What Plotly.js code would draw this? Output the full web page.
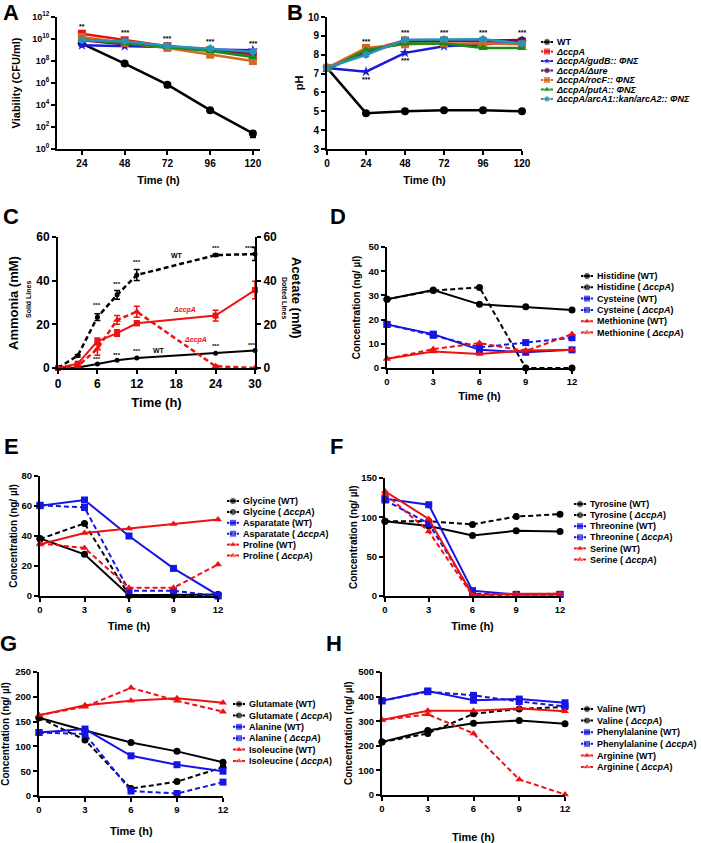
<!DOCTYPE html>
<html>
<head>
<meta charset="utf-8">
<script src="https://cdn.plot.ly/plotly-3.0.1.min.js"></script>
<style>body{margin:0;background:#fff}#fig{width:701px;height:843px}</style>
</head>
<body>
<div id="fig"></div>
<script>
const W = 701, H = 843
const FONT = 'Liberation Sans, Arial, sans-serif'

// A: viability (CFU/ml)
const tA = [24, 48, 72, 96, 120]
const viaWT = [3.8e9, 5.9e7, 7e5, 3.4e3, 26]
const viaWTerr = [5e8, 1e7, 3e5, 6e2, 15]
const viaCcpA = [3e10, 7.6e9, 2.2e9, 9.5e8, 3.8e8]
const viaGudB = [2.7e9, 2.3e9, 1.9e9, 1.1e9, 9.5e8]
const viaUre = [7.6e9, 3.3e9, 2.2e9, 1.1e9, 5.5e8]
const viaRocF = [1.55e10, 4.4e9, 1.55e9, 3.8e8, 1e8]
const viaPutA = [8.9e9, 3.8e9, 1.9e9, 8.3e8, 2.3e8]
const viaArcA = [7.6e9, 6.2e9, 2.3e9, 1.35e9, 6.8e8]
const sigA = ['**', '***', '***', '***', '***']
const sigAy = [11.1, 10.55, 10.05, 9.75, 9.6] // log10 position

// B: pH
const tB = [0, 24, 48, 72, 96, 120]
const phWT = [7.3, 4.9, 5.0, 5.05, 5.05, 5.0]
const phCcpA = [7.3, 8.2, 8.75, 8.75, 8.7, 8.7]
const phGudB = [7.3, 7.1, 8.1, 8.45, 8.55, 8.65]
const phUre = [7.3, 8.1, 8.7, 8.75, 8.75, 8.78]
const phRocF = [7.3, 8.36, 8.55, 8.6, 8.6, 8.55]
const phPutA = [7.2, 8.24, 8.6, 8.6, 8.35, 8.35]
const phArcA = [7.3, 8.0, 8.8, 8.82, 8.82, 8.6]
const sigBx = [24, 24, 48, 48, 72, 96, 120]
const sigBy = [8.68, 6.69, 9.17, 7.71, 9.17, 9.17, 9.17]

const strains = ['WT', '<i>ΔccpA</i>', '<i>ΔccpA/gudB:: ΦΝΣ</i>', '<i>ΔccpA/Δure</i>',
  '<i>ΔccpA/rocF:: ΦΝΣ</i>', '<i>ΔccpA/putA:: ΦΝΣ</i>', '<i>ΔccpA/arcA1::kan/arcA2:: ΦΝΣ</i>']
const strainColors = ['#000000', '#ee1111', '#1a1ad8', '#5e0f5e', '#d4681e', '#178a17', '#2a92b8']
const strainSymbols = ['circle', 'square', 'star', 'hexagon', 'square', 'triangle-up', 'hexagon']

// C: ammonia (solid, left axis) and acetate (dotted, right axis)
const tC = [0, 3, 6, 9, 12, 24, 30]
const nh3WT = [0, 0.2, 1.8, 3.5, 4.6, 6.8, 8]
const nh3CcpA = [0, 2, 12.2, 16, 20.5, 24, 35.7]
const nh3CcpAerr = [0, 0.5, 1.5, 1.5, 1, 2.5, 4]
const acWT = [0, 5.6, 23.3, 33.5, 42.6, 51.7, 52.2]
const acWTerr = [0, 0.5, 1.5, 2, 2.5, 0.5, 3]
const acCcpA = [0, 0.8, 8.8, 22, 25.8, 0.8, 0]
const acCcpAerr = [0, 0.3, 3, 2, 2.5, 0.5, 0]
const sigCx = [6, 9, 12, 24, 29.3, 6, 9, 12, 24, 29.5]
const sigCy = [28.9, 38.4, 48.6, 55, 55, 4.3, 6.1, 8, 9.9, 10.6]
const sigC = ['***', '***', '***', '***', '****', '***', '***', '***', '***', '***']

// D-H: amino acids, time 0-12 h
const tAA = [0, 3, 6, 9, 12]
const hisWT = [28.4, 32.2, 26.3, 25.3, 24]
const hisCcpA = [28.4, 32, 33.3, 0, 0]
const cysWT = [18, 14, 7.5, 6.5, 7.5]
const cysCcpA = [18, 13.5, 8.5, 10.5, 12.5]
const metWT = [3.8, 6.8, 5.8, 7.2, 7.5]
const metCcpA = [3.8, 7.8, 10.3, 7, 14]

const glyWT = [38.4, 27.8, 0.5, 0.5, 1]
const glyCcpA = [38, 48.4, 0.5, 0.5, 0.5]
const aspWT = [60.2, 64, 40, 18.4, 0.5]
const aspCcpA = [60.5, 59, 3.5, 3.5, 0]
const proWT = [34.4, 42, 45, 48, 51]
const proCcpA = [35, 32, 5.5, 5.5, 21]

const tyrWT = [95, 89, 77, 83, 82]
const tyrCcpA = [95, 95, 91, 101, 104]
const thrWT = [123.5, 116, 6.8, 2, 2]
const thrCcpA = [122, 92, 3, 2, 2]
const serWT = [133, 98, 1, 3, 3]
const serCcpA = [130, 82, 0.5, 2, 3]

const gluWT = [158, 132, 108, 90, 68]
const gluCcpA = [158, 113, 15, 29, 58]
const alaWT = [128, 135, 81, 63, 50]
const alaCcpA = [128, 125, 10, 5, 28]
const ileWT = [163, 183, 192, 197, 188]
const ileCcpA = [163, 180, 218, 192, 170]

const valWT = [215, 262, 292, 303, 290]
const valCcpA = [215, 250, 330, 350, 358]
const pheWT = [383, 423, 385, 390, 375]
const pheCcpA = [383, 420, 405, 380, 360]
const argWT = [305, 342, 342, 352, 340]
const argCcpA = [305, 328, 250, 63, 2]

const aaColors = ['#000000', '#000000', '#1515e6', '#1515e6', '#ee1111', '#ee1111']
const aaSymbols = ['circle', 'circle', 'square', 'square', 'triangle-up', 'triangle-up']
const aaDash = ['solid', '5px,3px', 'solid', '5px,3px', 'solid', '5px,3px']

function xdom(a, b) { return [a / W, b / W] }
function ydom(top, bottom) { return [1 - bottom / H, 1 - top / H] }

function axis(extra, size) {
  return Object.assign({
    showline: true, linecolor: '#000', linewidth: 2,
    ticks: 'outside', ticklen: 4, tickwidth: 2, tickcolor: '#000',
    showgrid: false, zeroline: false, fixedrange: true,
    tickfont: {family: FONT, size: size || 9, color: '#000', weight: 'bold'}
  }, extra)
}
function ttl(text, size, standoff) {
  return {text: text, standoff: standoff, font: {family: FONT, size: size, color: '#000', weight: 'bold'}}
}

const data = []
function addSeries(x, y, k, color, symbol, dash, msize, width, err, ya) {
  const tr = {x: x, y: y, xaxis: 'x' + k, yaxis: ya || ('y' + k), type: 'scatter', mode: 'lines+markers',
    line: {color: color, width: width, dash: dash}, marker: {color: color, symbol: symbol, size: msize},
    cliponaxis: false, showlegend: false, hoverinfo: 'skip'}
  if (err) tr.error_y = {type: 'data', array: err, color: color, thickness: 1.5, width: 3}
  data.push(tr)
}

const layout = {
  width: W, height: H, margin: {l: 0, r: 0, t: 0, b: 0},
  paper_bgcolor: '#fff', plot_bgcolor: 'rgba(0,0,0,0)',
  font: {family: FONT, color: '#000'}, showlegend: false, annotations: []
}

function note(text, x, y, xref, yref, size, color, extra) {
  layout.annotations.push(Object.assign({text: text, x: x, y: y, xref: xref, yref: yref, showarrow: false,
    font: {family: FONT, size: size, color: color || '#000', weight: 'bold'}}, extra || {}))
}
function paperNote(text, px, py, size, angle) {
  note(text, px / W, 1 - py / H, 'paper', 'paper', size, '#000', {textangle: angle || 0, xanchor: 'center', yanchor: 'middle'})
}

// legends drawn on their own small axes
let legendCount = 10
function addLegend(names, colors, symbols, dashes, mx, first, sp, fsize, msize) {
  const k = legendCount++
  const n = names.length
  const idx = names.map((_, i) => i)
  layout['xaxis' + k] = {domain: xdom(mx - 6, mx + 6), range: [0, 1], visible: false, anchor: 'y' + k, fixedrange: true}
  layout['yaxis' + k] = {domain: ydom(first - sp / 2, first + (n - 1) * sp + sp / 2), range: [n - 0.5, -0.5],
    anchor: 'x' + k, side: 'right', showline: false, ticks: '', showgrid: false, zeroline: false,
    tickvals: idx, ticktext: names, fixedrange: true, ticklabelstandoff: 3,
    tickfont: {family: FONT, size: fsize, color: '#000', weight: 'bold'}}
  idx.forEach(i => {
    data.push({x: [0, 0.5, 1], y: [i, i, i], xaxis: 'x' + k, yaxis: 'y' + k, type: 'scatter', mode: 'lines+markers',
      line: {color: colors[i], width: 2, dash: dashes[i]}, marker: {color: colors[i], symbol: symbols[i], size: [0, msize, 0]},
      cliponaxis: false, showlegend: false, hoverinfo: 'skip'})
  })
}

// ---------- A ----------
const viaAll = [viaWT, viaCcpA, viaGudB, viaUre, viaRocF, viaPutA, viaArcA]
viaAll.forEach((v, i) => addSeries(tA, v, 1, strainColors[i], strainSymbols[i], 'solid', 8, 2.5, i === 0 ? viaWTerr : null))
layout.xaxis = axis({domain: xdom(57, 260), range: [10, 124], tickvals: tA, anchor: 'y',
  title: ttl('Time (h)', 11, 8)}, 10)
layout.yaxis = axis({domain: ydom(17, 149), type: 'log', range: [0, 12], anchor: 'x',
  tickvals: [1, 1e2, 1e4, 1e6, 1e8, 1e10, 1e12],
  ticktext: ['10<sup>0</sup>', '10<sup>2</sup>', '10<sup>4</sup>', '10<sup>6</sup>', '10<sup>8</sup>', '10<sup>10</sup>', '10<sup>12</sup>'],
  title: ttl('Viability (CFU/ml)', 11, 9)}, 9)
tA.forEach((t, i) => note(sigA[i], t, sigAy[i], 'x', 'y', 7))

// ---------- B ----------
const phAll = [phWT, phCcpA, phGudB, phUre, phRocF, phPutA, phArcA]
phAll.forEach((v, i) => addSeries(tB, v, 2, strainColors[i], strainSymbols[i], 'solid', 8, 2.5))
layout.xaxis2 = axis({domain: xdom(327, 522), range: [0, 120], tickvals: tB, anchor: 'y2',
  title: ttl('Time (h)', 11, 8)}, 10)
layout.yaxis2 = axis({domain: ydom(17, 149), range: [3, 10], dtick: 1, anchor: 'x2',
  title: ttl('pH', 11, 2)}, 10)
sigBx.forEach((t, i) => note('***', t, sigBy[i], 'x2', 'y2', 7))
addLegend(strains, strainColors, strainSymbols, strains.map(() => 'solid'), 547, 42, 9.5, 9, 7)

// ---------- C ----------
addSeries(tC, nh3WT, 3, '#000', 'circle', 'solid', 5, 2)
addSeries(tC, acWT, 3, '#000', 'circle', '5px,3px', 5, 2.5, acWTerr, 'y9')
addSeries(tC, nh3CcpA, 3, '#ee1111', 'square', 'solid', 6, 2, nh3CcpAerr)
addSeries(tC, acCcpA, 3, '#ee1111', 'triangle-up', '5px,3px', 7, 2.5, acCcpAerr, 'y9')
layout.xaxis3 = axis({domain: xdom(58, 255), range: [0, 30], dtick: 6, anchor: 'y3',
  title: ttl('Time (h)', 13, 7)}, 12)
layout.yaxis3 = axis({domain: ydom(237, 368), range: [0, 60], dtick: 20, anchor: 'x3'}, 12)
layout.yaxis9 = axis({domain: ydom(237, 368), range: [0, 60], dtick: 20, anchor: 'x3',
  overlaying: 'y3', side: 'right'}, 12)
sigCx.forEach((t, i) => note(sigC[i], t, sigCy[i], 'x3', 'y3', 6))
note('WT', 18.1, 51.4, 'x3', 'y3', 7)
note('WT', 15.4, 8.0, 'x3', 'y3', 7)
note('<i>ΔccpA</i>', 19.3, 26.6, 'x3', 'y3', 7, '#ee1111')
note('<i>ΔccpA</i>', 20.9, 12.9, 'x3', 'y3', 7, '#ee1111')
paperNote('Ammonia (mM)', 13, 303, 13, -90)
paperNote('Solid Lines', 29, 300, 7, -90)
paperNote('Acetate (mM)', 297, 298, 13, 90)
paperNote('Dotted Lines', 285, 298, 7, 90)

// ---------- D-H ----------
const conc = 'Concentration (ng/ µl)'
const panels = [
  {k: 4, x: [387, 572], y: [247, 368], r: 50, d: 10, tso: 6, yso: 6,
   ys: [hisWT, hisCcpA, cysWT, cysCcpA, metWT, metCcpA],
   names: ['Histidine (WT)', 'Histidine ( <i>ΔccpA</i>)', 'Cysteine (WT)', 'Cysteine ( <i>ΔccpA</i>)', 'Methionine (WT)', 'Methionine ( <i>ΔccpA</i>)'],
   leg: [587, 276, 11.3]},
  {k: 5, x: [40, 218], y: [476, 596], r: 80, d: 20, tso: 8, yso: 2,
   ys: [glyWT, glyCcpA, aspWT, aspCcpA, proWT, proCcpA],
   names: ['Glycine (WT)', 'Glycine ( <i>ΔccpA</i>)', 'Asparatate (WT)', 'Asparatate ( <i>ΔccpA</i>)', 'Proline (WT)', 'Proline ( <i>ΔccpA</i>)'],
   leg: [233, 501, 10.9]},
  {k: 6, x: [385, 560], y: [478, 596], r: 150, d: 50, tso: 8, ytitle: [353, 537],
   ys: [tyrWT, tyrCcpA, thrWT, thrCcpA, serWT, serCcpA],
   names: ['Tyrosine (WT)', 'Tyrosine ( <i>ΔccpA</i>)', 'Threonine (WT)', 'Threonine ( <i>ΔccpA</i>)', 'Serine (WT)', 'Serine ( <i>ΔccpA</i>)'],
   leg: [580, 504, 11.1]},
  {k: 7, x: [39, 223], y: [672, 796], r: 250, d: 50, yso: 6, xtitle: [131, 831],
   ys: [gluWT, gluCcpA, alaWT, alaCcpA, ileWT, ileCcpA],
   names: ['Glutamate (WT)', 'Glutamate ( <i>ΔccpA</i>)', 'Alanine (WT)', 'Alanine ( <i>ΔccpA</i>)', 'Isoleucine (WT)', 'Isoleucine ( <i>ΔccpA</i>)'],
   leg: [239, 704, 11.4]},
  {k: 8, x: [382, 565], y: [672, 795], r: 500, d: 100, xtitle: [473, 837], ytitle: [348, 733],
   ys: [valWT, valCcpA, pheWT, pheCcpA, argWT, argCcpA],
   names: ['Valine (WT)', 'Valine ( <i>ΔccpA</i>)', 'Phenylalanine (WT)', 'Phenylalanine ( <i>ΔccpA</i>)', 'Arginine (WT)', 'Arginine ( <i>ΔccpA</i>)'],
   leg: [587, 709, 11.6]}
]
panels.forEach(p => {
  p.ys.forEach((v, i) => addSeries(tAA, v, p.k, aaColors[i], aaSymbols[i], aaDash[i], 7, 2))
  layout['xaxis' + p.k] = axis({domain: xdom(p.x[0], p.x[1]), range: [0, 12], tickvals: tAA, anchor: 'y' + p.k}, 9.5)
  layout['yaxis' + p.k] = axis({domain: ydom(p.y[0], p.y[1]), range: [0, p.r], dtick: p.d, anchor: 'x' + p.k}, 9.5)
  if (p.xtitle) paperNote('Time (h)', p.xtitle[0], p.xtitle[1], 11)
  else layout['xaxis' + p.k].title = ttl('Time (h)', 11, p.tso)
  if (p.ytitle) paperNote(conc, p.ytitle[0], p.ytitle[1], 10, -90)
  else layout['yaxis' + p.k].title = ttl(conc, 10, p.yso)
  addLegend(p.names, aaColors, aaSymbols, aaDash, p.leg[0], p.leg[1], p.leg[2], 9, 7)
})

// panel letters
const letters = ['A', 'B', 'C', 'D', 'E', 'F', 'G', 'H']
const letterX = [11, 295, 11, 338, 11, 336, 8, 334]
const letterY = [13, 13, 217, 217, 447, 447, 643, 643]
letters.forEach((l, i) => paperNote(l, letterX[i], letterY[i], 22))

Plotly.newPlot('fig', data, layout, {staticPlot: true})
</script>
</body>
</html>
